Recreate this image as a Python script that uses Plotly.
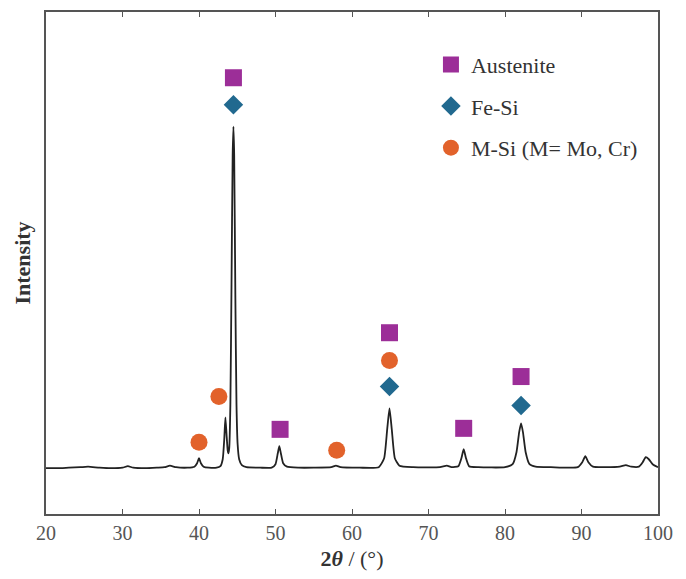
import plotly.graph_objects as go

# XRD pattern (2theta in degrees, intensity in arbitrary units)
two_theta = [20.0, 21.5, 23.0, 24.5, 25.5, 27.0, 28.5, 30.0, 30.7, 31.4, 33.0, 34.5, 35.5, 36.2, 37.0,
             38.5, 39.4, 39.75, 40.0, 40.25, 40.6, 41.3, 42.3, 42.8, 43.1, 43.3, 43.45, 43.6, 43.75,
             43.85, 43.95, 44.1, 44.25, 44.4, 44.5, 44.6, 44.75, 44.9, 45.05, 45.25, 45.6, 46.2, 48.0,
             49.5, 50.0, 50.3, 50.5, 50.7, 51.0, 51.5, 53.0, 55.0, 57.3, 57.9, 58.5, 61.0, 63.5, 64.2,
             64.6, 64.9, 65.2, 65.6, 66.2, 68.0, 71.5, 72.4, 73.0, 73.9, 74.3, 74.6, 74.9, 75.3, 76.5,
             80.0, 81.0, 81.5, 81.85, 82.1, 82.35, 82.7, 83.2, 84.0, 86.0, 89.5, 90.1, 90.5, 90.9, 91.5,
             93.0, 95.0, 95.8, 96.5, 97.5, 98.0, 98.4, 98.8, 99.3, 100.0]
intensity = [46, 46, 46.5, 47, 47.5, 46.5, 46, 46.5, 48, 46.5, 46, 46.5, 47, 48.5, 47,
             46.5, 47.5, 51, 56, 51, 47.5, 46.5, 46.5, 48, 55, 75, 97, 80, 64,
             61, 66, 110, 230, 360, 389, 360, 220, 110, 70, 55, 49, 47, 46.5,
             46.5, 50, 61, 68, 61, 51, 47.5, 46.5, 46.5, 47, 48.5, 47, 46.5, 47, 56,
             85, 106, 85, 56, 48.5, 47, 47, 48.5, 47, 48, 56, 65, 56, 48, 47,
             47, 50, 62, 82, 91, 82, 62, 50, 47.5, 47, 47, 52, 58, 52, 47.5,
             47, 47.5, 49, 47.5, 47.5, 52, 57, 55, 50, 47]

# Phase markers
austenite_x = [44.5, 50.6, 64.9, 74.6, 82.1]
austenite_y = [438, 85, 182, 86, 138]
fesi_x = [44.5, 64.9, 82.1]
fesi_y = [411, 128, 109]
msi_x = [40.0, 42.6, 58.0, 64.9]
msi_y = [72, 118, 64, 154]

x_ticks = [20, 30, 40, 50, 60, 70, 80, 90, 100]

FONT = "Liberation Serif"

fig = go.Figure()
fig.add_trace(go.Scatter(x=two_theta, y=intensity, mode="lines",
                         line=dict(color="#222222", width=1.8, shape="spline", smoothing=0.5),
                         showlegend=False, hoverinfo="skip"))
fig.add_trace(go.Scatter(x=austenite_x, y=austenite_y, mode="markers", name="Austenite",
                         legendgroup="a",
                         marker=dict(symbol="square", size=17, color="#9C2E98")))
fig.add_trace(go.Scatter(x=fesi_x, y=fesi_y, mode="markers", name="Fe-Si",
                         legendgroup="b",
                         marker=dict(symbol="diamond", size=15, color="#21698F")))
fig.add_trace(go.Scatter(x=msi_x, y=msi_y, mode="markers", name="M-Si (M= Mo, Cr)",
                         legendgroup="c",
                         marker=dict(symbol="circle", size=17, color="#E2622B")))

fig.update_layout(
    width=686, height=579,
    margin=dict(l=46, r=28, t=10, b=65),
    paper_bgcolor="white", plot_bgcolor="white",
    font=dict(family=FONT, color="#333333"),
    legend=dict(x=0.629, y=0.937, xanchor="left", yanchor="top",
                font=dict(family=FONT, size=22, color="#333333"),
                tracegroupgap=10, bgcolor="rgba(0,0,0,0)"),
)
fig.update_xaxes(range=[20, 100], tickvals=x_ticks, ticks="inside", ticklen=5,
                 tickcolor="#555555", showline=True, linecolor="#555555", linewidth=1.5,
                 mirror="ticks", showgrid=False, zeroline=False,
                 tickfont=dict(family=FONT, size=20, color="#555555"),
                 title=dict(text="<b>2<i>θ</i></b> / (°)", font=dict(family=FONT, size=22, color="#333333"),
                            standoff=8))
fig.update_yaxes(range=[0, 504], showticklabels=False, ticks="", showline=True,
                 linecolor="#555555", linewidth=1.5, mirror=True, showgrid=False, zeroline=False,
                 title=dict(text="<b>Intensity</b>", font=dict(family=FONT, size=22, color="#333333"),
                            standoff=8))

fig.write_html("out.html")
